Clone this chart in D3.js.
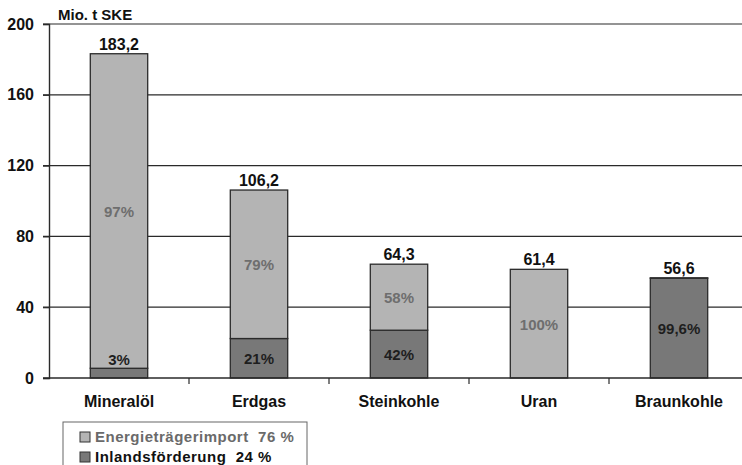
<!DOCTYPE html>
<html>
<head>
<meta charset="utf-8">
<script src="https://cdn.jsdelivr.net/npm/d3@7/dist/d3.min.js"></script>
<style>
  html, body { margin: 0; padding: 0; background: #fff; }
  svg { display: block; font-family: "Liberation Sans", Arial, sans-serif; }
</style>
</head>
<body>
<svg id="chart" width="742" height="465"></svg>
<script>
// Primärenergie nach Energieträgern, Mio. t SKE
const categories = ["Mineralöl", "Erdgas", "Steinkohle", "Uran", "Braunkohle"];
const totals = [183.2, 106.2, 64.3, 61.4, 56.6];
const totalLabels = ["183,2", "106,2", "64,3", "61,4", "56,6"];
// Anteile in Prozent: Import und Inlandsförderung
const importShare = [97, 79, 58, 100, 0.4];
const inlandShare = [3, 21, 42, 0, 99.6];
const importLabels = ["97%", "79%", "58%", "100%", ""];
const inlandLabels = ["3%", "21%", "42%", "", "99,6%"];
const yTicks = [0, 40, 80, 120, 160, 200];
const legendItems = ["Energieträgerimport  76 %", "Inlandsförderung  24 %"];

const colImport = "#b4b4b4";
const colInland = "#787878";
const colLine = "#2a2a2a";

const svg = d3.select("#chart");

const x = d3.scaleBand()
  .domain(categories)
  .range([49, 749])
  .paddingInner(0.59)
  .paddingOuter(0.295);

const y = d3.scaleLinear().domain([0, 200]).range([378, 24]);

// Horizontal gridlines
svg.append("g")
  .selectAll("line")
  .data(yTicks.filter(d => d > 0))
  .join("line")
  .attr("x1", 43).attr("x2", 742)
  .attr("y1", d => y(d)).attr("y2", d => y(d))
  .attr("stroke", colLine).attr("stroke-width", 1.2);

// Y axis
const yAxis = svg.append("g")
  .attr("transform", "translate(49,0)")
  .call(d3.axisLeft(y).tickValues(yTicks).tickSize(6).tickPadding(9));
yAxis.select(".domain").attr("stroke", colLine).attr("stroke-width", 1.4);
yAxis.selectAll(".tick line").attr("stroke", colLine).attr("stroke-width", 1.2);
yAxis.selectAll(".tick text")
  .attr("font-size", 16).attr("font-weight", "bold").attr("fill", "#111")
  .attr("font-family", "Liberation Sans, Arial, sans-serif");

// Unit label
svg.append("text")
  .attr("x", 58).attr("y", 20)
  .attr("font-size", 15).attr("font-weight", "bold").attr("fill", "#111")
  .text("Mio. t SKE");

// Bars: stacked import (top) and inland (bottom)
const rows = categories.map((c, i) => {
  const inland = totals[i] * inlandShare[i] / 100;
  const imp = totals[i] * importShare[i] / 100;
  return { c, i, inland, imp, total: totals[i] };
});

const bars = svg.append("g");
rows.forEach(r => {
  const x0 = x(r.c), w = x.bandwidth();
  if (r.inland > 0) {
    bars.append("rect")
      .attr("x", x0).attr("width", w)
      .attr("y", y(r.inland)).attr("height", y(0) - y(r.inland))
      .attr("fill", colInland).attr("stroke", colLine).attr("stroke-width", 1.3);
  }
  if (r.imp > 0) {
    bars.append("rect")
      .attr("x", x0).attr("width", w)
      .attr("y", y(r.inland + r.imp)).attr("height", y(r.inland) - y(r.inland + r.imp))
      .attr("fill", colImport).attr("stroke", colLine).attr("stroke-width", 1.3);
  }
});

// X axis baseline and category ticks
svg.append("line")
  .attr("x1", 43).attr("x2", 742)
  .attr("y1", y(0)).attr("y2", y(0))
  .attr("stroke", colLine).attr("stroke-width", 1.4);

const step = x.step();
svg.append("g")
  .selectAll("line")
  .data(categories.slice(1))
  .join("line")
  .attr("x1", d => x(d) - step * x.paddingInner() / 2)
  .attr("x2", d => x(d) - step * x.paddingInner() / 2)
  .attr("y1", y(0)).attr("y2", y(0) + 6)
  .attr("stroke", colLine).attr("stroke-width", 1.2);

// Category labels
svg.append("g")
  .selectAll("text")
  .data(categories)
  .join("text")
  .attr("x", d => x(d) + x.bandwidth() / 2)
  .attr("y", 407)
  .attr("text-anchor", "middle")
  .attr("font-size", 16).attr("font-weight", "bold").attr("fill", "#111")
  .text(d => d);

// Total value labels
svg.append("g")
  .selectAll("text")
  .data(rows)
  .join("text")
  .attr("x", d => x(d.c) + x.bandwidth() / 2)
  .attr("y", d => y(d.total) - 4)
  .attr("text-anchor", "middle")
  .attr("font-size", 16).attr("font-weight", "bold").attr("fill", "#111")
  .text(d => totalLabels[d.i]);

// Share labels
const pct = svg.append("g")
  .attr("font-size", 15).attr("font-weight", "bold").attr("text-anchor", "middle");
rows.forEach(r => {
  const cx = x(r.c) + x.bandwidth() / 2;
  if (importLabels[r.i]) {
    const mid = (y(r.inland) + y(r.inland + r.imp)) / 2;
    pct.append("text")
      .attr("x", cx).attr("y", mid + 6)
      .attr("fill", "#6e6e6e")
      .text(importLabels[r.i]);
  }
  if (inlandLabels[r.i]) {
    const top = y(r.inland), h = y(0) - top;
    const ty = h < 22 ? top - 3 : (top + y(0)) / 2 + 6;
    pct.append("text")
      .attr("x", cx).attr("y", ty)
      .attr("fill", "#1e1e1e")
      .text(inlandLabels[r.i]);
  }
});

// Legend
const lg = svg.append("g");
lg.append("rect")
  .attr("x", 63).attr("y", 422).attr("width", 244).attr("height", 60)
  .attr("fill", "#fff").attr("stroke", "#666").attr("stroke-width", 1);
const legendColors = [colImport, colInland];
const legendText = ["#6a6a6a", "#111"];
legendItems.forEach((t, i) => {
  const yy = 432 + i * 20;
  lg.append("rect")
    .attr("x", 80).attr("y", yy).attr("width", 10).attr("height", 10)
    .attr("fill", legendColors[i]).attr("stroke", "#333").attr("stroke-width", 1);
  lg.append("text")
    .attr("x", 95).attr("y", yy + 10)
    .attr("font-size", 15).attr("font-weight", "bold")
    .attr("letter-spacing", 0.5)
    .attr("fill", legendText[i])
    .style("white-space", "pre")
    .text(t);
});
</script>
</body>
</html>
